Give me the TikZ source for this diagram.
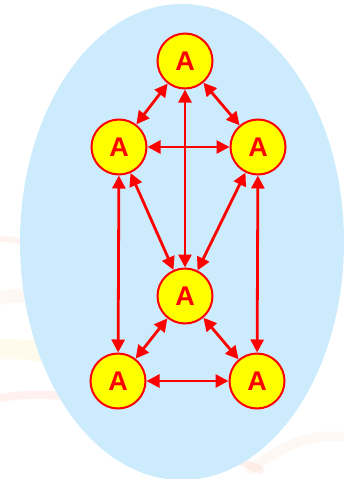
\documentclass[tikz,border=0pt]{standalone}
\usepackage{fontspec}
\setmainfont{Liberation Sans}
\usetikzlibrary{arrows.meta}
\definecolor{skyfill}{RGB}{204,236,253}
\definecolor{nodeyellow}{RGB}{255,255,0}
\definecolor{linkred}{RGB}{255,0,0}
\definecolor{swirl}{RGB}{240,200,160}
\tikzset{
  agent/.style={circle, draw=linkred, line width=2pt, fill=nodeyellow,
    minimum size=55pt, inner sep=0pt, text=linkred,
    font=\fontsize{27}{27}\selectfont\bfseries},
  link/.style={draw=linkred, line width=2.8pt,
    {Triangle[length=13pt,width=13pt]}-{Triangle[length=13pt,width=13pt]}}
}
\begin{document}
\begin{tikzpicture}[x=1pt,y=-1pt]
  \useasboundingbox (0,0) rectangle (343,479);
  % faint background swirls
  \begin{scope}[opacity=0.12, line cap=round]
    \draw[swirl, line width=14pt] (-10,300) .. controls (60,280) and (120,330) .. (200,360);
    \draw[swirl!70!red, line width=8pt] (-10,400) .. controls (80,380) and (150,420) .. (260,470);
    \draw[swirl!60!yellow, line width=20pt] (-10,350) .. controls (40,345) and (90,360) .. (140,390);
    \draw[swirl, line width=10pt] (250,470) .. controls (290,440) and (320,430) .. (360,440);
    \draw[swirl!80!red, line width=6pt] (-10,240) .. controls (20,235) and (40,250) .. (70,260);
  \end{scope}
  % enclosing region
  \fill[skyfill] (182,242) ellipse [x radius=162, y radius=238];
  % agents
  \node[agent] (t)  at (185,61)  {A};
  \node[agent] (ml) at (119,147) {A};
  \node[agent] (mr) at (258,147) {A};
  \node[agent] (c)  at (185,296) {A};
  \node[agent] (bl) at (118,381) {A};
  \node[agent] (br) at (257,381) {A};
  % links
  \draw[link] (t) -- (ml);
  \draw[link] (t) -- (mr);
  \draw[link] (t) -- (c);
  \draw[link] (ml) -- (mr);
  \draw[link] (ml) -- (c);
  \draw[link] (mr) -- (c);
  \draw[link] (ml) -- (bl);
  \draw[link] (mr) -- (br);
  \draw[link] (c) -- (bl);
  \draw[link] (c) -- (br);
  \draw[link] (bl) -- (br);
\end{tikzpicture}
\end{document}
